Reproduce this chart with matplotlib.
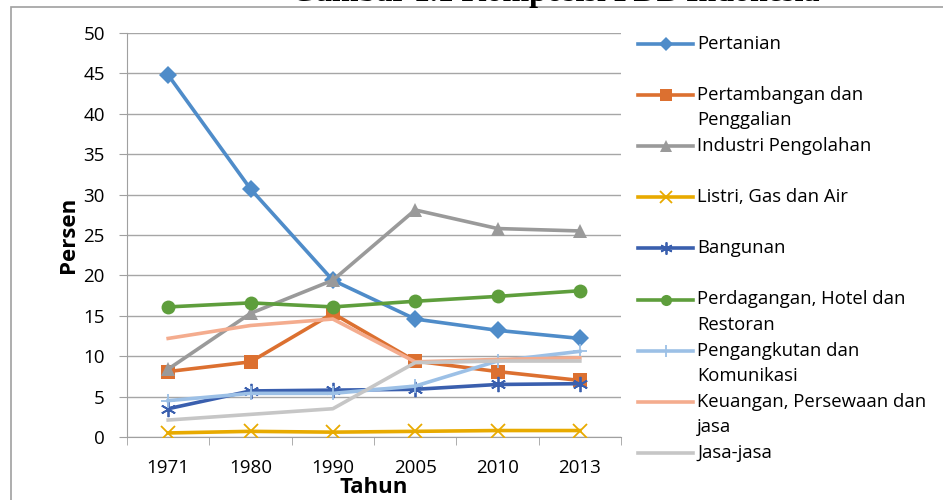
import numpy as np
import matplotlib.pyplot as plt
from matplotlib.patches import Rectangle

# data
years = ['1971', '1980', '1990', '2005', '2010', '2013']
pertanian = [44.8, 30.7, 19.4, 14.6, 13.2, 12.2]
pertambangan = [8.1, 9.3, 15.3, 9.4, 8.1, 7.0]
industri = [8.4, 15.3, 19.4, 28.1, 25.8, 25.5]
listrik = [0.5, 0.7, 0.6, 0.7, 0.8, 0.8]
bangunan = [3.5, 5.7, 5.8, 5.9, 6.5, 6.6]
perdagangan = [16.1, 16.6, 16.1, 16.8, 17.4, 18.1]
pengangkutan = [4.5, 5.4, 5.4, 6.3, 9.4, 10.6]
keuangan = [12.2, 13.8, 14.6, 9.3, 9.6, 9.8]
jasa = [2.1, 2.8, 3.5, 9.2, 9.4, 9.4]

labels = ['Pertanian', 'Pertambangan dan\nPenggalian', 'Industri Pengolahan',
          'Listri, Gas dan Air', 'Bangunan', 'Perdagangan, Hotel dan\nRestoran',
          'Pengangkutan dan\nKomunikasi', 'Keuangan, Persewaan dan\njasa', 'Jasa-jasa']
series = [pertanian, pertambangan, industri, listrik, bangunan,
          perdagangan, pengangkutan, keuangan, jasa]
colors = ['#4F8CC9', '#DC7030', '#9A9A9A', '#E8AA00', '#3A5FAE',
          '#5E9E3C', '#9CC0E6', '#F4AC8E', '#C6C6C6']
markers = ['D', 's', '^', 'x', (6, 2, 0), 'o', '+', None, None]
msizes = [9, 10, 10, 10, 11, 10, 10, 0, 0]


def edge(m):
    return 1.3 if m in ('x', '+') or isinstance(m, tuple) else 0


plt.rcParams['font.family'] = ['Open Sans', 'DejaVu Sans']

fig = plt.figure(figsize=(9.43, 5.0), dpi=100)
ax = fig.add_axes([127 / 943, 1 - 437 / 500, 494 / 943, 404 / 500])

x = np.arange(len(years))
for s, c, m, ms in zip(series, colors, markers, msizes):
    ax.plot(x, s, color=c, lw=2.6, marker=m, markersize=ms,
            markeredgewidth=edge(m), markeredgecolor=c,
            solid_joinstyle='round', zorder=3)

ax.set_xlim(-0.5, 5.5)
ax.set_ylim(0, 50)
ax.set_yticks(np.arange(0, 51, 5))
ax.set_xticks(x)
ax.set_xticklabels(years)
ax.set_xticks(np.arange(-0.5, 6, 1), minor=True)
ax.tick_params(axis='x', which='major', length=0, labelsize=13.5, pad=16)
ax.tick_params(axis='x', which='minor', length=6, color='#A0A0A0', direction='out')
ax.tick_params(axis='y', length=6, color='#A0A0A0', labelsize=13.5, pad=10)
ax.grid(axis='y', color='#A6A6A6', lw=1)
ax.set_axisbelow(True)
for side in ('top', 'right'):
    ax.spines[side].set_visible(False)
for side in ('left', 'bottom'):
    ax.spines[side].set_color('#A0A0A0')
ax.set_ylabel('Persen', fontsize=16, fontweight='bold', labelpad=3)
ax.set_xlabel('Tahun', fontsize=16, fontweight='bold', labelpad=0)

# legend drawn on its own axes
lax = fig.add_axes([0, 0, 1, 1], facecolor='none')
lax.set_xlim(0, 943)
lax.set_ylim(500, 0)
lax.axis('off')
for i, (lab, c, m, ms) in enumerate(zip(labels, colors, markers, msizes)):
    yy = 44 + i * 51.1
    lax.plot([638, 693], [yy, yy], color=c, lw=2.6)
    if m is not None:
        lax.plot([665.5], [yy], color=c, marker=m, markersize=ms * 0.8,
                 markeredgewidth=edge(m), markeredgecolor=c)
    lax.text(697, yy - 9, lab, fontsize=13.3, va='top', ha='left',
             linespacing=1.5)

# chart border and clipped title
fig.add_artist(Rectangle((11 / 943, -0.1), 1.0, 1 - 7 / 500 + 0.1,
                         transform=fig.transFigure, fill=False,
                         edgecolor='#A0A0A0', lw=1.2))
fig.text(555 / 943, 1 - 1 / 500, 'Gambar 1.1 Komposisi PDB Indonesia',
         ha='center', va='baseline', fontsize=23, fontweight='bold',
         family='Liberation Serif')

fig.savefig('out.png', dpi=100)
